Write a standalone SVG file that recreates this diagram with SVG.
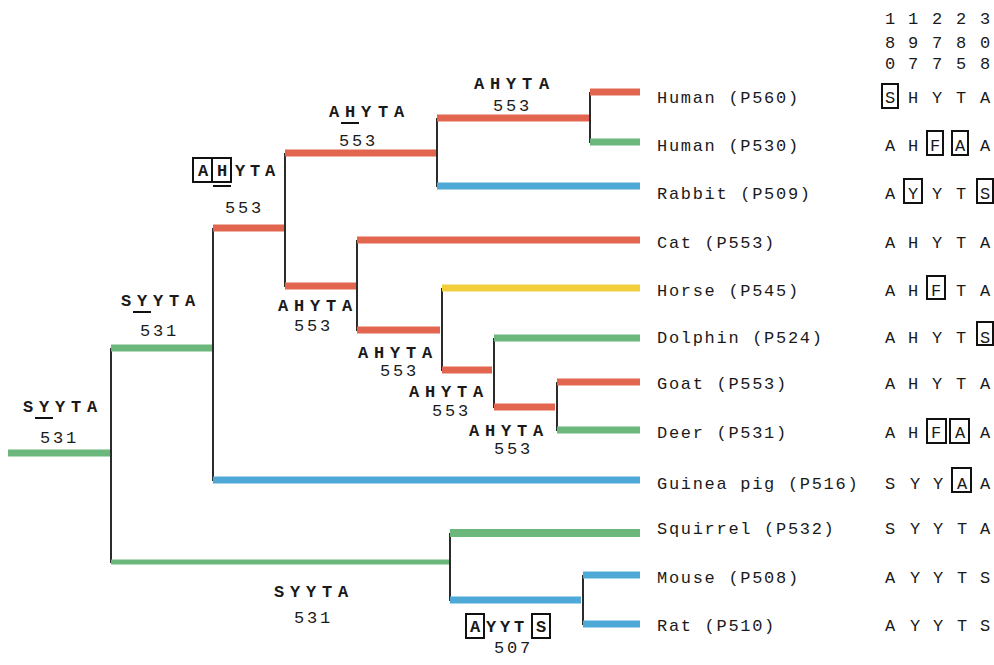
<svg xmlns="http://www.w3.org/2000/svg" width="994" height="665" viewBox="0 0 994 665">
  <style>
    .r { stroke: #e2654f; stroke-width: 7; }
    .g { stroke: #6cb77c; stroke-width: 7; }
    .b { stroke: #4fa9d6; stroke-width: 7; }
    .y { stroke: #f2cd3c; stroke-width: 7; }
    .v { stroke: #2b2b2b; stroke-width: 2; }
    text { font-family: "Liberation Mono", "Courier New", monospace; fill: #1a1a1a; }
    .leaf { font-size: 17px; letter-spacing: 1.7px; }
    .seq { font-size: 17px; text-anchor: middle; }
    .anc { font-size: 17px; text-anchor: middle; font-weight: bold; }
    .num { font-size: 17px; text-anchor: middle; }
    .box { fill: none; stroke: #111; stroke-width: 2; }
    .ul { stroke: #111; stroke-width: 2; }
  </style>

  <rect width="994" height="665" fill="#ffffff"/>

  <!-- tree branches -->
  <g id="branches" fill="none">
    <!-- root -->
    <line class="g" x1="8" y1="453" x2="111" y2="453"/>
    <line class="v" x1="111" y1="348" x2="111" y2="563"/>
    <line class="g" x1="111" y1="348" x2="212" y2="348"/>
    <line class="g" x1="111" y1="562" x2="450" y2="562" style="stroke-width:5"/>
    <!-- upper clade -->
    <line class="v" x1="213" y1="228" x2="213" y2="481"/>
    <line class="r" x1="213" y1="228" x2="284" y2="228"/>
    <line class="b" x1="213" y1="480" x2="640" y2="480"/>
    <line class="v" x1="285" y1="153" x2="285" y2="287"/>
    <line class="r" x1="285" y1="153" x2="436" y2="153"/>
    <line class="r" x1="285" y1="286" x2="357" y2="286"/>
    <line class="v" x1="437" y1="118" x2="437" y2="187"/>
    <line class="r" x1="437" y1="118" x2="589" y2="118"/>
    <line class="b" x1="437" y1="186" x2="640" y2="186"/>
    <line class="v" x1="590" y1="92" x2="590" y2="143"/>
    <line class="r" x1="590" y1="92" x2="640" y2="92"/>
    <line class="g" x1="590" y1="142" x2="640" y2="142"/>
    <line class="v" x1="357" y1="240" x2="357" y2="331"/>
    <line class="r" x1="357" y1="240" x2="640" y2="240"/>
    <line class="r" x1="357" y1="330" x2="440" y2="330"/>
    <line class="v" x1="442" y1="288" x2="442" y2="371"/>
    <line class="y" x1="442" y1="288" x2="640" y2="288"/>
    <line class="r" x1="442" y1="370" x2="492" y2="370"/>
    <line class="v" x1="494" y1="338" x2="494" y2="408"/>
    <line class="g" x1="494" y1="338" x2="640" y2="338"/>
    <line class="r" x1="494" y1="407" x2="555" y2="407"/>
    <line class="v" x1="557" y1="382" x2="557" y2="431"/>
    <line class="r" x1="557" y1="382" x2="640" y2="382"/>
    <line class="g" x1="557" y1="430" x2="640" y2="430"/>
    <!-- lower clade -->
    <line class="v" x1="450" y1="533" x2="450" y2="601"/>
    <line class="g" x1="450" y1="533" x2="640" y2="533" style="stroke-width:8"/>
    <line class="b" x1="450" y1="600" x2="581" y2="600"/>
    <line class="v" x1="583" y1="575" x2="583" y2="625"/>
    <line class="b" x1="583" y1="575" x2="640" y2="575"/>
    <line class="b" x1="583" y1="624" x2="640" y2="624"/>
  </g>

  <!-- ancestral sequences at internal nodes -->
  <g id="anc-root">
    <text class="anc" x="28 44 60 76 92" y="412">SYYTA</text>
    <line class="ul" x1="35" y1="418" x2="53" y2="418"/>
    <text class="num" x="45 58 71" y="443">531</text>
  </g>
  <g id="anc-upper">
    <text class="anc" x="126 142 158 174 190" y="306">SYYTA</text>
    <line class="ul" x1="133" y1="312" x2="151" y2="312"/>
    <text class="num" x="145 158 171" y="336">531</text>
  </g>
  <g id="anc-lower">
    <text class="anc" x="279 295 311 327 343" y="597">SYYTA</text>
    <text class="num" x="299 312 325" y="623">531</text>
  </g>
  <g id="anc-a">
    <rect class="box" x="193" y="158" width="19" height="24"/>
    <rect class="box" x="212" y="158" width="19" height="24"/>
    <text class="anc" x="203 222 240 255 270" y="176">AHYTA</text>
    <line class="ul" x1="213" y1="186" x2="231" y2="186"/>
    <text class="num" x="230 243 256" y="213">553</text>
  </g>
  <g id="anc-b">
    <text class="anc" x="334 350 366 383 399" y="117">AHYTA</text>
    <line class="ul" x1="341" y1="123" x2="359" y2="123"/>
    <text class="num" x="344 357 370" y="146">553</text>
  </g>
  <g id="anc-c">
    <text class="anc" x="479 495 511 527 544" y="89">AHYTA</text>
    <text class="num" x="498 511 524" y="111">553</text>
  </g>
  <g id="anc-d">
    <text class="anc" x="283 299 315 331 347" y="311">AHYTA</text>
    <text class="num" x="299 312 325" y="331">553</text>
  </g>
  <g id="anc-e">
    <text class="anc" x="363 379 395 411 427" y="358">AHYTA</text>
    <text class="num" x="385 398 411" y="376">553</text>
  </g>
  <g id="anc-f">
    <text class="anc" x="414 430 446 462 478" y="397">AHYTA</text>
    <text class="num" x="437 450 463" y="416">553</text>
  </g>
  <g id="anc-g">
    <text class="anc" x="474 490 506 522 538" y="436">AHYTA</text>
    <text class="num" x="499 512 525" y="454">553</text>
  </g>
  <g id="anc-h">
    <rect class="box" x="466" y="614" width="18" height="24"/>
    <rect class="box" x="532" y="614" width="18" height="24"/>
    <text class="anc" x="475 491 505 519 541" y="632">AYYTS</text>
    <text class="num" x="499 512 525" y="653">507</text>
  </g>

  <!-- residue position header -->
  <g id="positions">
    <text class="seq" x="890 913 937 961 985" y="24">11223</text>
    <text class="seq" x="890 913 937 961 985" y="48">89780</text>
    <text class="seq" x="890 913 937 961 985" y="69">07758</text>
  </g>

  <!-- leaves: name and residues -->
  <g id="human-p560">
    <text class="leaf" x="657" y="103">Human (P560)</text>
    <rect class="box" x="882" y="84" width="16" height="24"/>
    <text class="seq" x="890 913 937 961 985" y="103">SHYTA</text>
  </g>
  <g id="human-p530">
    <text class="leaf" x="657" y="151">Human (P530)</text>
    <rect class="box" x="927" y="131" width="16" height="24"/>
    <rect class="box" x="952" y="131" width="16" height="24"/>
    <text class="seq" x="890 913 935 960 985" y="151">AHFAA</text>
  </g>
  <g id="rabbit">
    <text class="leaf" x="657" y="199">Rabbit (P509)</text>
    <rect class="box" x="904" y="179" width="18" height="24"/>
    <rect class="box" x="977" y="179" width="16" height="24"/>
    <text class="seq" x="890 913 937 961 985" y="199">AYYTS</text>
  </g>
  <g id="cat">
    <text class="leaf" x="657" y="248">Cat (P553)</text>
    <text class="seq" x="890 913 937 961 985" y="248">AHYTA</text>
  </g>
  <g id="horse">
    <text class="leaf" x="657" y="296">Horse (P545)</text>
    <rect class="box" x="927" y="276" width="18" height="23"/>
    <text class="seq" x="890 913 936 961 985" y="296">AHFTA</text>
  </g>
  <g id="dolphin">
    <text class="leaf" x="657" y="343">Dolphin (P524)</text>
    <rect class="box" x="977" y="322" width="16" height="23"/>
    <text class="seq" x="890 913 937 961 985" y="343">AHYTS</text>
  </g>
  <g id="goat">
    <text class="leaf" x="657" y="389">Goat (P553)</text>
    <text class="seq" x="890 913 937 961 985" y="389">AHYTA</text>
  </g>
  <g id="deer">
    <text class="leaf" x="657" y="438">Deer (P531)</text>
    <rect class="box" x="927" y="419" width="19" height="24"/>
    <rect class="box" x="950" y="419" width="19" height="24"/>
    <text class="seq" x="890 913 936 960 985" y="438">AHFAA</text>
  </g>
  <g id="guinea-pig">
    <text class="leaf" x="657" y="489">Guinea pig (P516)</text>
    <rect class="box" x="952" y="468" width="19" height="24"/>
    <text class="seq" x="890 915 938 962 985" y="489">SYYAA</text>
  </g>
  <g id="squirrel">
    <text class="leaf" x="657" y="534">Squirrel (P532)</text>
    <text class="seq" x="890 915 938 962 985" y="534">SYYTA</text>
  </g>
  <g id="mouse">
    <text class="leaf" x="657" y="583">Mouse (P508)</text>
    <text class="seq" x="890 915 938 962 985" y="583">AYYTS</text>
  </g>
  <g id="rat">
    <text class="leaf" x="657" y="631">Rat (P510)</text>
    <text class="seq" x="890 915 938 962 985" y="631">AYYTS</text>
  </g>
</svg>
